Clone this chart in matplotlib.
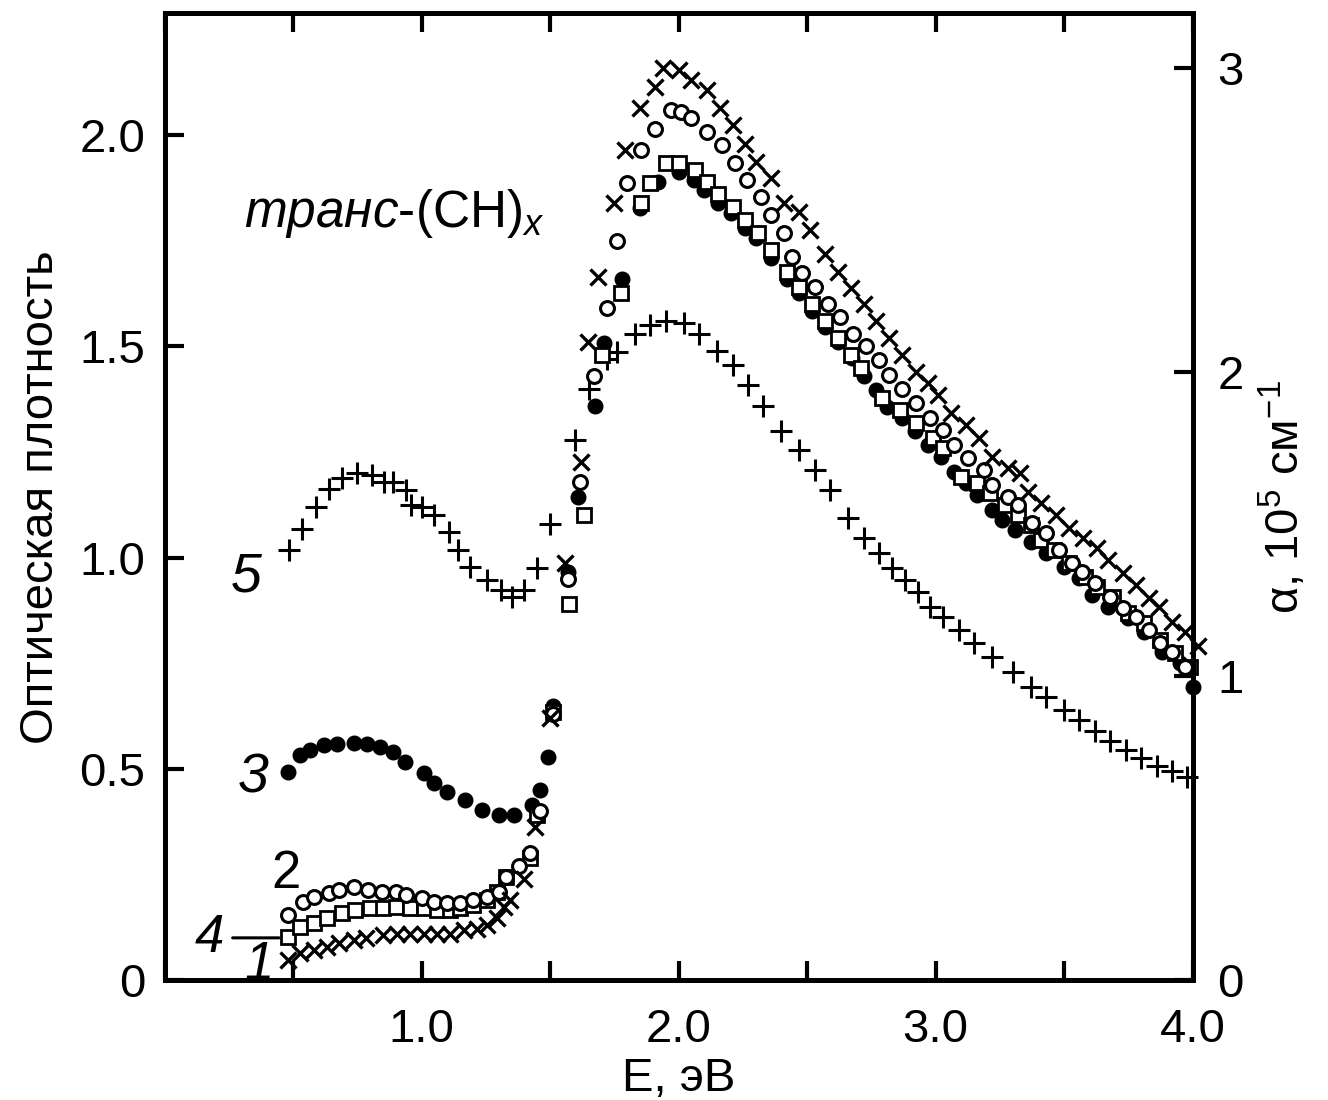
import matplotlib
matplotlib.use('Agg')
import matplotlib.pyplot as plt
from matplotlib.ticker import MultipleLocator, FuncFormatter

plt.rcParams['font.family'] = ['Liberation Sans', 'DejaVu Sans']
plt.rcParams['mathtext.fontset'] = 'custom'
plt.rcParams['mathtext.rm'] = 'Liberation Sans'
plt.rcParams['mathtext.it'] = 'Liberation Sans:italic'

# curve 1 (x)
e1 = [0.48, 0.525, 0.58, 0.63, 0.68, 0.735, 0.785, 0.85, 0.905, 0.955, 1.01, 1.06, 1.11, 1.165,
      1.215, 1.255, 1.295, 1.32, 1.345, 1.40, 1.44, 1.50, 1.557, 1.62, 1.646, 1.685, 1.75, 1.79,
      1.85, 1.91, 1.94, 2.0, 2.05, 2.11, 2.16, 2.21, 2.26, 2.30, 2.36, 2.41, 2.47, 2.51, 2.57,
      2.62, 2.67, 2.72, 2.77, 2.82, 2.87, 2.925, 2.97, 3.01, 3.06, 3.12, 3.17, 3.22, 3.28, 3.33,
      3.36, 3.41, 3.47, 3.52, 3.575, 3.63, 3.67, 3.73, 3.78, 3.83, 3.87, 3.92, 3.97, 4.02]
d1 = [0.047, 0.064, 0.071, 0.078, 0.087, 0.095, 0.099, 0.106, 0.11, 0.11, 0.11, 0.11, 0.11, 0.118,
      0.122, 0.13, 0.146, 0.173, 0.189, 0.24, 0.362, 0.62, 0.987, 1.226, 1.51, 1.664, 1.84, 1.964,
      2.064, 2.114, 2.159, 2.154, 2.13, 2.107, 2.064, 2.024, 1.98, 1.936, 1.898, 1.84, 1.818, 1.775, 1.72,
      1.676, 1.638, 1.60, 1.56, 1.52, 1.479, 1.439, 1.413, 1.385, 1.342, 1.314, 1.283, 1.238, 1.212, 1.20,
      1.155, 1.129, 1.10, 1.07, 1.046, 1.022, 0.994, 0.963, 0.935, 0.904, 0.883, 0.847, 0.824, 0.79]

# curve 2 (open circles)
e2 = [0.48, 0.54, 0.58, 0.64, 0.68, 0.735, 0.79, 0.845, 0.90, 0.94, 1.0, 1.05, 1.10, 1.15, 1.20,
      1.255, 1.30, 1.33, 1.38, 1.42, 1.46, 1.51, 1.57, 1.615, 1.67, 1.72, 1.76, 1.80, 1.855, 1.91,
      1.97, 2.01, 2.05, 2.11, 2.17, 2.22, 2.265, 2.32, 2.36, 2.41, 2.44, 2.48, 2.53, 2.58, 2.63,
      2.68, 2.73, 2.78, 2.82, 2.87, 2.925, 2.98, 3.03, 3.07, 3.125, 3.19, 3.22, 3.28, 3.32, 3.375,
      3.43, 3.48, 3.53, 3.57, 3.62, 3.68, 3.73, 3.78, 3.83, 3.875, 3.92, 3.97]
d2 = [0.154, 0.185, 0.197, 0.206, 0.213, 0.22, 0.213, 0.208, 0.208, 0.201, 0.194, 0.185, 0.182, 0.182, 0.189,
      0.197, 0.208, 0.244, 0.27, 0.30, 0.40, 0.63, 0.95, 1.18, 1.43, 1.59, 1.75, 1.886, 1.964, 2.016,
      2.059, 2.054, 2.04, 2.007, 1.976, 1.934, 1.893, 1.853, 1.811, 1.768, 1.711, 1.673, 1.64, 1.60, 1.57,
      1.53, 1.50, 1.467, 1.432, 1.40, 1.366, 1.33, 1.302, 1.266, 1.236, 1.207, 1.172, 1.143, 1.124, 1.082,
      1.058, 1.018, 0.987, 0.966, 0.94, 0.906, 0.88, 0.859, 0.828, 0.797, 0.776, 0.741]

# curve 3 (filled circles)
e3 = [0.48, 0.525, 0.565, 0.62, 0.67, 0.735, 0.786, 0.837, 0.89, 0.935, 1.01, 1.05, 1.10, 1.17,
      1.235, 1.30, 1.36, 1.43, 1.46, 1.49, 1.51, 1.57, 1.61, 1.675, 1.71, 1.78, 1.85, 1.92, 2.0,
      2.06, 2.10, 2.155, 2.205, 2.26, 2.30, 2.36, 2.42, 2.47, 2.52, 2.57, 2.62, 2.675, 2.72, 2.77,
      2.81, 2.87, 2.92, 2.97, 3.02, 3.07, 3.12, 3.16, 3.22, 3.26, 3.31, 3.37, 3.43, 3.5, 3.56,
      3.61, 3.67, 3.75, 3.81, 3.88, 3.95, 4.0]
d3 = [0.492, 0.532, 0.544, 0.556, 0.559, 0.561, 0.559, 0.552, 0.54, 0.516, 0.49, 0.466, 0.445, 0.426,
      0.402, 0.39, 0.39, 0.414, 0.45, 0.528, 0.65, 0.966, 1.143, 1.36, 1.508, 1.66, 1.827, 1.89, 1.912,
      1.893, 1.87, 1.84, 1.815, 1.78, 1.756, 1.709, 1.66, 1.626, 1.585, 1.545, 1.51, 1.472, 1.43, 1.397,
      1.356, 1.33, 1.30, 1.266, 1.238, 1.202, 1.176, 1.148, 1.112, 1.089, 1.065, 1.037, 1.01, 0.977, 0.951,
      0.911, 0.883, 0.857, 0.824, 0.776, 0.75, 0.693]

# curve 4 (open squares)
e4 = [0.48, 0.525, 0.58, 0.63, 0.69, 0.74, 0.80, 0.85, 0.90, 0.955, 1.01, 1.06, 1.11, 1.15, 1.20,
      1.255, 1.295, 1.33, 1.42, 1.45, 1.51, 1.575, 1.63, 1.70, 1.775, 1.855, 1.89, 1.95, 2.0,
      2.065, 2.11, 2.155, 2.21, 2.26, 2.31, 2.36, 2.42, 2.47, 2.52, 2.57, 2.62, 2.67, 2.71, 2.79,
      2.86, 2.925, 2.99, 3.03, 3.10, 3.16, 3.21, 3.27, 3.32, 3.37, 3.41, 3.46, 3.52, 3.58, 3.63,
      3.69, 3.75, 3.81, 3.875, 3.93, 3.99]
d4 = [0.102, 0.125, 0.135, 0.146, 0.158, 0.166, 0.17, 0.17, 0.173, 0.17, 0.17, 0.166, 0.166, 0.17, 0.178,
      0.189, 0.208, 0.244, 0.289, 0.39, 0.634, 0.89, 1.10, 1.479, 1.626, 1.84, 1.886, 1.934, 1.934,
      1.917, 1.889, 1.86, 1.83, 1.80, 1.768, 1.728, 1.676, 1.64, 1.60, 1.56, 1.52, 1.48, 1.45, 1.377,
      1.349, 1.32, 1.283, 1.259, 1.19, 1.176, 1.153, 1.124, 1.10, 1.077, 1.041, 1.018, 0.987, 0.954, 0.93,
      0.906, 0.869, 0.845, 0.805, 0.774, 0.741]

# curve 5 (+)
e5 = [0.485, 0.536, 0.587, 0.64, 0.69, 0.747, 0.806, 0.852, 0.89, 0.94, 0.96, 1.0, 1.05, 1.105,
      1.14, 1.19, 1.255, 1.31, 1.35, 1.40, 1.45, 1.50, 1.595, 1.65, 1.72, 1.76, 1.83, 1.89, 1.95,
      2.02, 2.08, 2.15, 2.21, 2.27, 2.33, 2.40, 2.47, 2.53, 2.59, 2.66, 2.72, 2.78, 2.83, 2.88,
      2.93, 2.98, 3.03, 3.09, 3.15, 3.22, 3.30, 3.37, 3.43, 3.50, 3.56, 3.62, 3.68, 3.74, 3.80,
      3.86, 3.92, 3.98]
d5 = [1.018, 1.067, 1.12, 1.162, 1.188, 1.2, 1.195, 1.179, 1.18, 1.16, 1.124, 1.12, 1.10, 1.06,
      1.018, 0.978, 0.947, 0.923, 0.907, 0.923, 0.975, 1.08, 1.278, 1.40, 1.47, 1.486, 1.53, 1.55, 1.56,
      1.555, 1.53, 1.49, 1.455, 1.408, 1.36, 1.30, 1.254, 1.207, 1.16, 1.093, 1.046, 1.01, 0.975, 0.947,
      0.918, 0.883, 0.859, 0.828, 0.797, 0.765, 0.729, 0.693, 0.67, 0.64, 0.615, 0.59, 0.565, 0.545, 0.525,
      0.508, 0.494, 0.48]

y_top = 2.289
alpha_per_od = 1.3898

fig = plt.figure(figsize=(13.28, 11.0), dpi=100)
ax = fig.add_axes([0.124, 0.109, 0.774, 0.879])

ax.plot(e5, d5, ls='none', marker='+', ms=16, mew=2.2, color='black', clip_on=False)
ax.plot(e3, d3, ls='none', marker='o', ms=10.5, color='black', clip_on=False)
ax.plot(e4, d4, ls='none', marker='s', ms=10, mew=2, mfc='white', color='black', clip_on=False)
ax.plot(e2, d2, ls='none', marker='o', ms=10, mew=2.2, mfc='white', color='black', clip_on=False)
ax.plot(e1, d1, ls='none', marker='x', ms=12, mew=2.4, color='black', clip_on=False)

ax.set_xlim(0, 4.0)
ax.set_ylim(0, y_top)
ax.xaxis.set_major_locator(MultipleLocator(0.5))
ax.xaxis.set_major_formatter(FuncFormatter(lambda v, p: '%.1f' % v if v > 0.01 and abs(v - round(v)) < 1e-6 else ''))
ax.set_yticks([0, 0.5, 1.0, 1.5, 2.0])
ax.set_yticklabels(['0', '0.5', '1.0', '1.5', '2.0'])
ax.tick_params(axis='x', direction='in', length=14, width=3, labelsize=34, pad=20, top=True)
ax.tick_params(axis='y', direction='in', length=14, width=3, labelsize=34, pad=14)
for s in ax.spines.values():
    s.set_linewidth(3.5)

ax.set_xlabel('E, эВ', fontsize=34, labelpad=4)
ax.set_ylabel('Оптическая плотность', fontsize=34, labelpad=12)

ax2 = ax.twinx()
ax2.set_ylim(0, y_top * alpha_per_od)
ax2.set_yticks([0, 1, 2, 3])
ax2.set_yticklabels(['0', '1', '2', '3'])
ax2.tick_params(axis='y', direction='in', length=14, width=3, labelsize=34, pad=18)
for s in ax2.spines.values():
    s.set_linewidth(3.5)
ax2.set_ylabel('α, 10$^{5}$ см$^{-1}$', fontsize=34, labelpad=10)

ax.text(0.31, 1.815, r'$\it{транс}$-(CH)$_{\it{x}}$', fontsize=37, ha='left', va='center')
ax.text(0.317, 0.954, '5', fontsize=40, style='italic', ha='center', va='center')
ax.text(0.344, 0.478, '3', fontsize=40, style='italic', ha='center', va='center')
ax.text(0.473, 0.25, '2', fontsize=38, ha='center', va='center')
ax.annotate('4', xy=(0.445, 0.1), xytext=(0.175, 0.1), fontsize=38, style='italic',
            ha='center', va='center', arrowprops=dict(arrowstyle='-', lw=2.2, color='black',
                                                      shrinkA=4, shrinkB=0))
ax.text(0.37, 0.035, '1', fontsize=38, style='italic', ha='center', va='center')

fig.savefig('out.png', dpi=100)
